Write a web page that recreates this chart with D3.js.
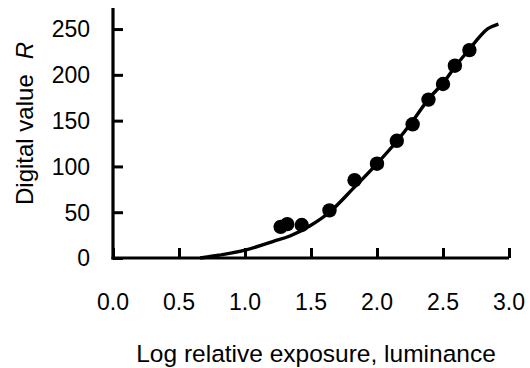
<!DOCTYPE html>
<html>
<head>
<meta charset="utf-8">
<script src="https://cdn.jsdelivr.net/npm/d3@7"></script>
<style>
  body { margin: 0; background: #fff; }
  text { font-family: Arial, "Liberation Sans", sans-serif; fill: #000; }
</style>
</head>
<body>
<div id="chart"></div>
<script>
// measured data points (log exposure, digital value R)
var pointX = [1.27, 1.32, 1.43, 1.64, 1.83, 2.00, 2.15, 2.27, 2.39, 2.50, 2.59, 2.70];
var pointY = [34, 37, 36, 52, 85, 103, 128, 146, 173, 190, 210, 227];

// fitted characteristic curve
var curveX = [0.66, 0.80, 1.00, 1.21, 1.34, 1.49, 1.64, 1.82, 1.99, 2.15, 2.27, 2.39, 2.50, 2.60, 2.70, 2.78, 2.84, 2.92];
var curveY = [0, 3, 8.5, 18, 24, 35, 50, 76, 101.5, 127.5, 149.5, 173.5, 191, 210.5, 228, 242, 250.5, 255.5];

var xTicks = [0.0, 0.5, 1.0, 1.5, 2.0, 2.5, 3.0];
var yTicks = [0, 50, 100, 150, 200, 250];

var width = 530, height = 368;

var svg = d3.select("#chart").append("svg")
    .attr("width", width)
    .attr("height", height);

var x = d3.scaleLinear().domain([0, 3]).range([113, 509]);
var y = d3.scaleLinear().domain([0, 273]).range([258, 8]);

// axes, ticks point inside the plot
var gx = svg.append("g")
    .attr("transform", "translate(0," + y(0) + ")")
    .call(d3.axisTop(x).tickValues(xTicks).tickSize(10).tickFormat(""));
var gy = svg.append("g")
    .attr("transform", "translate(" + x(0) + ",0)")
    .call(d3.axisRight(y).tickValues(yTicks).tickSize(10).tickFormat(""));

[gx, gy].forEach(function(g) {
    g.select(".domain").attr("stroke", "#000").attr("stroke-width", 3.2);
    g.selectAll(".tick line").attr("stroke", "#000").attr("stroke-width", 3);
});
gx.select(".domain").attr("d", "M" + (x(0) - 1.5) + ",0H" + x(3));
gy.select(".domain").attr("d", "M0," + (y(0) + 1.5) + "V" + y(273));

// tick labels
svg.append("g").selectAll("text")
    .data(xTicks)
    .enter().append("text")
    .attr("x", function(d) { return x(d); })
    .attr("y", 310)
    .attr("text-anchor", "middle")
    .style("font-size", "23px")
    .text(function(d) { return d.toFixed(1); });

svg.append("g").selectAll("text")
    .data(yTicks)
    .enter().append("text")
    .attr("x", 90)
    .attr("y", function(d) { return y(d) + 8.3; })
    .attr("text-anchor", "end")
    .style("font-size", "23px")
    .text(function(d) { return d; });

// axis titles
svg.append("text")
    .attr("x", 316)
    .attr("y", 361.5)
    .attr("text-anchor", "middle")
    .style("font-size", "24.5px")
    .text("Log relative exposure, luminance");

var yl = svg.append("text")
    .attr("transform", "translate(33,205) rotate(-90)")
    .attr("text-anchor", "start")
    .style("font-size", "24px");
yl.append("tspan").text("Digital value");
yl.append("tspan").attr("dx", 15).style("font-style", "italic").text("R");

// curve
var line = d3.line()
    .x(function(d) { return x(d[0]); })
    .y(function(d) { return y(d[1]); })
    .curve(d3.curveCatmullRom.alpha(0.5));

svg.append("path")
    .datum(d3.zip(curveX, curveY))
    .attr("d", line)
    .attr("fill", "none")
    .attr("stroke", "#000")
    .attr("stroke-width", 3.4);

// points
svg.append("g").selectAll("circle")
    .data(d3.zip(pointX, pointY))
    .enter().append("circle")
    .attr("cx", function(d) { return x(d[0]); })
    .attr("cy", function(d) { return y(d[1]); })
    .attr("r", 7.2)
    .attr("fill", "#000");
</script>
</body>
</html>
